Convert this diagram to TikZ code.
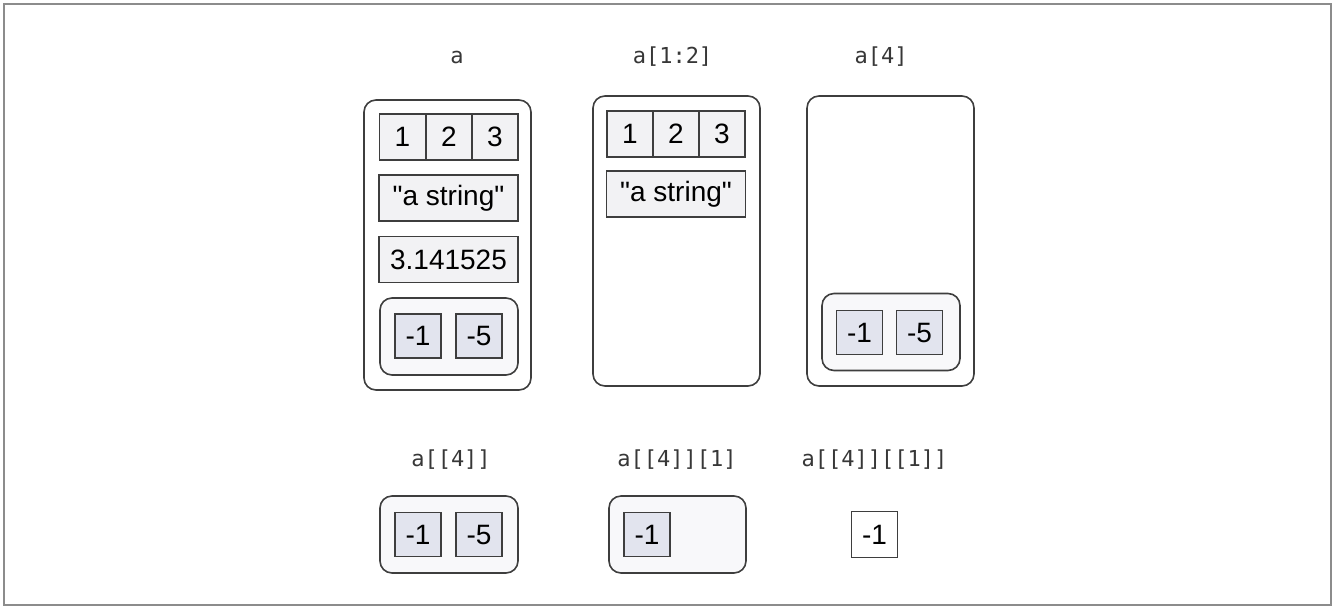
\documentclass[tikz,border=0pt]{standalone}
\usepackage{fontspec}
\setmainfont{Liberation Sans}
\setmonofont{DejaVu Sans Mono}
\definecolor{edge}{RGB}{62,62,62}
\definecolor{frame}{RGB}{140,140,140}
\definecolor{atomfill}{RGB}{242,242,244}
\definecolor{numfill}{RGB}{226,228,238}
\definecolor{listfill}{RGB}{248,248,250}
\definecolor{boxfill}{RGB}{255,255,255}
\definecolor{labeltext}{RGB}{55,55,55}
\begin{document}
\begin{tikzpicture}[x=0.5pt, y=-0.5pt,
  cell/.style={draw=edge, line width=0.8pt, fill=atomfill, inner sep=0pt, minimum width=23pt, minimum height=23pt, font=\fontsize{14}{16}\selectfont},
  wide/.style={cell, minimum width=69.5pt},
  num/.style={cell, fill=numfill, minimum height=22pt},
  outer/.style={draw=edge, line width=0.8pt, fill=boxfill, rounded corners=6pt, minimum width=83.5pt, minimum height=145pt, inner sep=0pt},
  inner/.style={draw=edge, line width=0.8pt, fill=listfill, rounded corners=6pt, minimum width=69pt, minimum height=38.5pt, inner sep=0pt},
  code/.style={text=labeltext, font=\ttfamily\fontsize{11}{13}\selectfont}
]
\useasboundingbox (0,0) rectangle (1336,611);
\draw[frame, line width=1pt] (4,4) rectangle (1331,605);
% top row
\node[code] (la) at (457,57) {a};
\node[code] (lb) at (672.5,57) {a[1:2]};
\node[code] (lc) at (881,57) {a[4]};
\node[outer] (a) at (447.5,245) {};
\node[cell] (a1) at (402.5,137) {1};
\node[cell] (a2) at (449,137) {2};
\node[cell] (a3) at (495,137) {3};
\node[wide] (as) at (448.5,198) {\textquotedbl a string\textquotedbl};
\node[wide] (ap) at (448.5,259.5) {3.141525};
\node[inner] (al) at (449,336.5) {};
\node[num] (al1) at (418,336) {-1};
\node[num] (al2) at (479,336) {-5};
\node[outer] (b) at (676.5,241) {};
\node[cell] (b1) at (630,134) {1};
\node[cell] (b2) at (676,134) {2};
\node[cell] (b3) at (722,134) {3};
\node[wide] (bs) at (676,194) {\textquotedbl a string\textquotedbl};
\node[outer] (c) at (890.5,241) {};
\node[inner] (cl) at (891,332) {};
\node[num] (cl1) at (859.5,332.5) {-1};
\node[num] (cl2) at (919.5,332.5) {-5};
% bottom row
\node[code] (ld) at (451,460) {a[[4]]};
\node[code] (le) at (677,460) {a[[4]][1]};
\node[code] (lf) at (874.5,460) {a[[4]][[1]]};
\node[inner] (d) at (449,534.5) {};
\node[num] (d1) at (418,534.5) {-1};
\node[num] (d2) at (479,534.5) {-5};
\node[inner, minimum width=68.5pt] (e) at (677.5,534.5) {};
\node[num] (e1) at (647,534.5) {-1};
\node[cell, fill=white] (f1) at (874.5,534.5) {-1};
\end{tikzpicture}
\end{document}
